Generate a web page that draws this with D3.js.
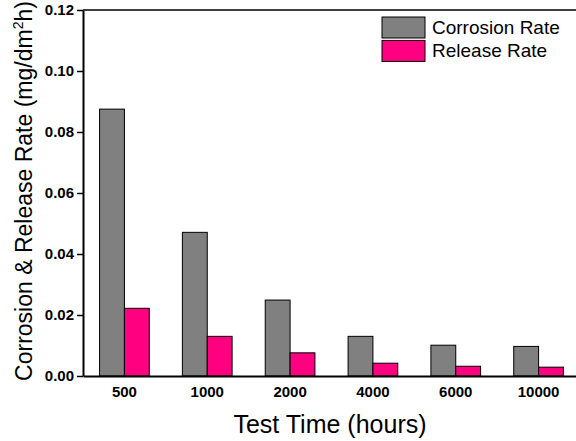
<!DOCTYPE html>
<html>
<head>
<meta charset="utf-8">
<script src="https://cdn.jsdelivr.net/npm/d3@7"></script>
<style>
  body { margin: 0; background: #fff; }
  svg { font-family: "Liberation Sans", Arial, sans-serif; }
</style>
</head>
<body>
<svg id="chart" width="576" height="441"></svg>
<script>
// values
var times = ["500", "1000", "2000", "4000", "6000", "10000"];
var corrosionRate = [0.0875, 0.0471, 0.0249, 0.0130, 0.0101, 0.0097];
var releaseRate = [0.0222, 0.0130, 0.0076, 0.0042, 0.0032, 0.0029];
var seriesNames = ["Corrosion Rate", "Release Rate"];
var seriesColors = ["#808080", "#ff0080"];
var yTicks = [0, 0.02, 0.04, 0.06, 0.08, 0.10, 0.12];

var svg = d3.select("#chart"),
    margin = {top: 10, right: -4, bottom: 65, left: 83},
    width = 576 - margin.left - margin.right,
    height = 441 - margin.top - margin.bottom,
    g = svg.append("g").attr("transform", "translate(" + margin.left + "," + margin.top + ")");

var x = d3.scaleBand().domain(times).range([0, width]).padding(0);
var x1 = d3.scaleBand().domain(seriesNames).range([x.bandwidth() * 0.2, x.bandwidth() * 0.8]);
var y = d3.scaleLinear().domain([0, 0.12]).range([height, 0]);

var rows = times.map(function(t, i) {
  return {time: t, values: [corrosionRate[i], releaseRate[i]]};
});

// bars
var grp = g.selectAll(".grp")
    .data(rows)
  .enter().append("g")
    .attr("class", "grp")
    .attr("transform", function(d) { return "translate(" + x(d.time) + ",0)"; });

grp.selectAll("rect")
    .data(function(d) { return d.values.map(function(v, k) { return {name: seriesNames[k], v: v, k: k}; }); })
  .enter().append("rect")
    .attr("x", function(d) { return x1(d.name); })
    .attr("y", function(d) { return y(d.v); })
    .attr("width", x1.bandwidth())
    .attr("height", function(d) { return height - y(d.v); })
    .attr("fill", function(d) { return seriesColors[d.k]; })
    .attr("stroke", "#000")
    .attr("stroke-width", 1);

// top frame line
g.append("line")
    .attr("x1", 0).attr("x2", width)
    .attr("y1", 0).attr("y2", 0)
    .attr("stroke", "#000").attr("stroke-width", 1.5);

// y axis
var yAxis = g.append("g")
    .call(d3.axisLeft(y).tickValues(yTicks).tickFormat(d3.format(".2f")).tickSize(6).tickSizeOuter(0));
yAxis.select(".domain").attr("stroke-width", 2);
yAxis.selectAll(".tick line").attr("stroke-width", 1.5);
yAxis.selectAll(".tick text")
    .attr("x", -9)
    .style("font-size", "15px")
    .style("font-weight", "bold")
    .attr("fill", "#000");

// x axis (no ticks)
var xAxis = g.append("g")
    .attr("transform", "translate(0," + height + ")")
    .call(d3.axisBottom(x).tickSize(0).tickSizeOuter(0));
xAxis.select(".domain").attr("stroke-width", 2);
xAxis.selectAll(".tick text")
    .attr("y", 21)
    .attr("dy", 0)
    .style("font-size", "15px")
    .style("font-weight", "bold")
    .attr("fill", "#000");

// axis titles
svg.append("text")
    .attr("x", 330)
    .attr("y", 433)
    .attr("text-anchor", "middle")
    .style("font-size", "25px")
    .text("Test Time (hours)");

var yt = svg.append("text")
    .attr("transform", "translate(32,191) rotate(-90)")
    .attr("text-anchor", "middle")
    .style("font-size", "23px");
yt.append("tspan").text("Corrosion & Release Rate (mg/dm");
yt.append("tspan").attr("dy", -9).style("font-size", "14px").text("2");
yt.append("tspan").attr("dy", 9).text("h)");

// legend
var legend = svg.append("g").attr("transform", "translate(382,17)");
var li = legend.selectAll(".li")
    .data(seriesNames)
  .enter().append("g")
    .attr("transform", function(d, i) { return "translate(0," + (i * 23.4) + ")"; });
li.append("rect")
    .attr("width", 43).attr("height", 21)
    .attr("fill", function(d, i) { return seriesColors[i]; })
    .attr("stroke", "#000").attr("stroke-width", 1);
li.append("text")
    .attr("x", 50).attr("y", 16.5)
    .style("font-size", "19px")
    .text(function(d) { return d; });
</script>
</body>
</html>
